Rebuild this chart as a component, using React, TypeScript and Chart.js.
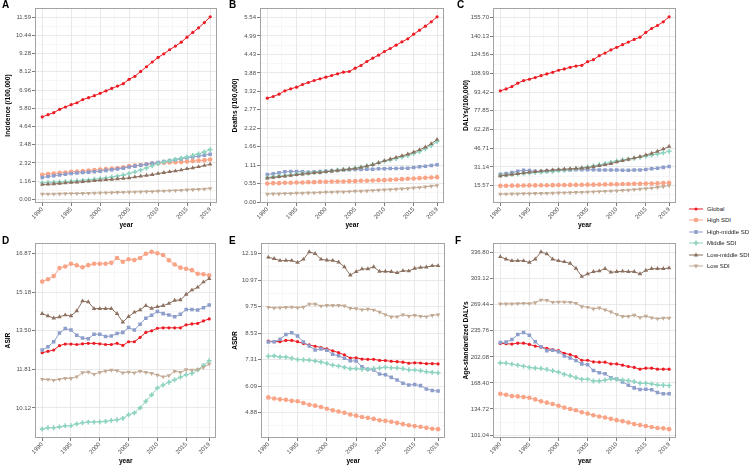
import React, { useEffect, useRef } from 'react';
import { Chart, registerables } from 'chart.js';
Chart.register(...registerables);

const years = [1990,1991,1992,1993,1994,1995,1996,1997,1998,1999,2000,2001,2002,2003,2004,2005,2006,2007,2008,2009,2010,2011,2012,2013,2014,2015,2016,2017,2018,2019];
const xMajorTicks = [1990, 1995, 2000, 2005, 2010, 2015, 2019];
const xMinorTicks = [1992.5, 1997.5, 2002.5, 2007.5, 2012.5, 2017];

const seriesNames = ['Global', 'High SDI', 'High-middle SDI', 'Middle SDI', 'Low-middle SDI', 'Low SDI'];
const seriesColors = ['#EC1C24', '#F9A487', '#8E9ECB', '#8DD3C0', '#8C7160', '#C2AA94'];

// A: Incidence
const incGlobal = [5.25,5.39,5.52,5.73,5.88,6.03,6.15,6.35,6.47,6.60,6.75,6.90,7.06,7.21,7.36,7.64,7.83,8.14,8.44,8.74,9.03,9.26,9.52,9.75,10.00,10.32,10.62,10.91,11.25,11.61];
const incHigh = [1.57,1.61,1.65,1.69,1.72,1.76,1.78,1.81,1.84,1.87,1.90,1.93,1.96,2.00,2.04,2.12,2.15,2.19,2.24,2.28,2.31,2.33,2.35,2.37,2.39,2.41,2.44,2.47,2.50,2.54];
const incHighMid = [1.40,1.46,1.51,1.56,1.61,1.65,1.68,1.71,1.74,1.77,1.80,1.85,1.89,1.94,1.99,2.07,2.12,2.18,2.24,2.30,2.35,2.41,2.46,2.52,2.58,2.65,2.70,2.76,2.82,2.88];
const incMid = [1.06,1.08,1.10,1.12,1.14,1.16,1.19,1.22,1.25,1.29,1.33,1.38,1.43,1.49,1.55,1.65,1.75,1.87,2.00,2.14,2.28,2.38,2.47,2.55,2.63,2.71,2.80,2.90,3.02,3.17];
const incLowMid = [0.95,0.97,0.99,1.02,1.05,1.08,1.10,1.13,1.16,1.19,1.23,1.25,1.28,1.31,1.34,1.37,1.43,1.48,1.53,1.58,1.65,1.71,1.76,1.81,1.87,1.95,2.01,2.08,2.16,2.24];
const incLow = [0.34,0.35,0.35,0.36,0.37,0.38,0.38,0.39,0.40,0.41,0.42,0.43,0.44,0.45,0.46,0.47,0.48,0.49,0.50,0.51,0.53,0.54,0.56,0.57,0.59,0.61,0.63,0.65,0.67,0.70];
const incTicks = ['0.00','1.16','2.32','3.48','4.64','5.80','6.96','8.12','9.28','10.44','11.59'];

// B: Deaths
const dthGlobal = [3.12,3.17,3.24,3.34,3.40,3.45,3.53,3.59,3.65,3.70,3.75,3.80,3.85,3.90,3.92,4.02,4.10,4.22,4.32,4.41,4.52,4.61,4.71,4.81,4.90,5.04,5.16,5.28,5.41,5.56];
const dthHigh = [0.56,0.57,0.57,0.58,0.58,0.59,0.59,0.60,0.60,0.61,0.61,0.62,0.62,0.62,0.63,0.63,0.64,0.64,0.65,0.66,0.66,0.67,0.68,0.69,0.70,0.71,0.72,0.73,0.74,0.75];
const dthHighMid = [0.83,0.85,0.88,0.91,0.92,0.92,0.91,0.90,0.91,0.92,0.93,0.94,0.95,0.96,0.97,0.98,0.98,0.99,0.99,1.00,1.00,1.01,1.01,1.02,1.02,1.04,1.06,1.08,1.10,1.12];
const dthMid = [0.74,0.76,0.78,0.80,0.82,0.84,0.86,0.87,0.89,0.90,0.92,0.94,0.96,0.98,1.00,1.02,1.05,1.09,1.13,1.18,1.23,1.27,1.31,1.35,1.40,1.46,1.52,1.60,1.70,1.82];
const dthLowMid = [0.72,0.74,0.76,0.78,0.80,0.82,0.84,0.86,0.88,0.89,0.91,0.93,0.95,0.97,0.99,1.01,1.04,1.08,1.12,1.18,1.24,1.29,1.34,1.39,1.44,1.50,1.57,1.65,1.75,1.88];
const dthLow = [0.24,0.25,0.25,0.26,0.26,0.27,0.27,0.28,0.28,0.29,0.30,0.30,0.31,0.31,0.32,0.33,0.33,0.34,0.35,0.36,0.37,0.38,0.39,0.40,0.41,0.43,0.44,0.46,0.48,0.50];
const dthTicks = ['0.00','0.55','1.11','1.66','2.22','2.77','3.32','3.88','4.43','4.99','5.54'];

// C: DALYs
const dalGlobal = [94.5,96.1,98.1,100.9,103.1,104.2,105.6,107.2,108.6,110.0,111.7,112.8,114.1,115.2,115.8,118.8,120.5,123.8,126.0,128.6,130.8,133.0,135.2,137.4,139.3,143.2,146.5,149.0,152.1,156.2];
const dalHigh = [15.3,15.4,15.5,15.5,15.6,15.7,15.7,15.8,15.8,15.9,16.0,16.0,16.1,16.1,16.2,16.3,16.3,16.4,16.5,16.6,16.7,16.8,16.9,17.0,17.1,17.2,17.3,17.4,17.6,17.8];
const dalHighMid = [25.0,25.5,26.4,27.5,28.3,28.0,27.4,27.2,27.6,28.0,28.3,28.5,28.6,28.7,28.7,28.8,28.7,28.6,28.5,28.5,28.5,28.4,28.3,28.5,28.6,29.0,29.5,30.0,30.7,31.4];
const dalMid = [23.9,24.3,24.8,25.3,25.7,26.1,26.5,26.8,27.1,27.5,28.0,28.5,29.0,29.6,30.2,31.1,32.0,32.9,33.8,34.9,36.1,36.9,37.6,38.3,39.1,40.0,40.9,41.9,42.9,44.1];
const dalLowMid = [23.6,24.2,24.8,25.4,26.0,26.6,27.1,27.7,28.1,28.5,28.9,29.2,29.5,29.8,30.1,30.5,31.3,32.1,32.9,33.8,35.2,36.3,37.4,38.5,39.6,41.0,42.4,44.0,46.0,48.2];
const dalLow = [8.4,8.5,8.6,8.7,8.8,8.9,9.0,9.1,9.2,9.3,9.5,9.6,9.7,9.9,10.0,10.2,10.4,10.6,10.8,11.0,11.2,11.5,11.8,12.2,12.6,13.0,13.5,14.0,14.7,15.6];
const dalTicks = ['15.57','31.14','46.71','62.28','77.85','93.42','108.99','124.56','140.13','155.70'];

// D: ASIR
const asirGlobal = [12.53,12.59,12.65,12.84,12.91,12.91,12.89,12.92,12.94,12.94,12.92,12.89,12.89,12.94,12.85,13.01,13.01,13.20,13.42,13.49,13.60,13.62,13.62,13.62,13.62,13.75,13.79,13.81,13.92,14.01];
const asirHigh = [15.64,15.74,15.88,16.23,16.30,16.42,16.35,16.27,16.36,16.42,16.42,16.42,16.46,16.67,16.51,16.62,16.58,16.67,16.86,16.94,16.88,16.80,16.57,16.39,16.25,16.20,16.14,15.98,15.96,15.91];
const asirHighMid = [12.65,12.79,13.01,13.39,13.59,13.52,13.29,13.17,13.14,13.34,13.34,13.24,13.26,13.37,13.42,13.63,13.52,13.78,14.04,14.17,14.33,14.24,14.18,14.10,14.21,14.42,14.42,14.40,14.50,14.62];
const asirMid = [9.19,9.25,9.25,9.29,9.34,9.34,9.42,9.47,9.50,9.50,9.51,9.53,9.57,9.60,9.66,9.82,9.90,10.12,10.41,10.69,10.99,11.12,11.24,11.35,11.46,11.57,11.63,11.78,11.98,12.18];
const asirLowMid = [14.24,14.14,14.04,14.10,14.18,14.14,14.36,14.79,14.75,14.46,14.46,14.46,14.46,14.24,13.87,14.11,14.30,14.40,14.59,14.47,14.54,14.59,14.68,14.82,14.84,15.08,15.27,15.39,15.62,15.77];
const asirLow = [11.37,11.36,11.33,11.37,11.41,11.41,11.48,11.66,11.69,11.59,11.67,11.73,11.77,11.75,11.65,11.69,11.65,11.72,11.67,11.63,11.55,11.48,11.53,11.72,11.67,11.79,11.77,11.80,11.89,12.04];
const asirTicks = ['10.12','11.81','13.50','15.18','16.87'];

// E: ASDR
const asdrGlobal = [8.17,8.14,8.14,8.20,8.20,8.14,8.06,7.99,7.93,7.87,7.81,7.72,7.64,7.53,7.39,7.40,7.34,7.33,7.33,7.28,7.27,7.24,7.22,7.20,7.15,7.17,7.16,7.13,7.13,7.12];
const asdrHigh = [5.58,5.53,5.49,5.47,5.42,5.40,5.32,5.24,5.20,5.14,5.06,4.99,4.93,4.87,4.79,4.74,4.68,4.64,4.59,4.53,4.50,4.46,4.41,4.35,4.30,4.26,4.23,4.18,4.14,4.12];
const asdrHighMid = [8.13,8.14,8.25,8.47,8.55,8.40,8.13,7.94,7.76,7.81,7.75,7.56,7.49,7.38,7.26,7.25,6.99,6.87,6.84,6.65,6.62,6.50,6.38,6.23,6.15,6.17,6.12,5.97,5.90,5.87];
const asdrMid = [7.47,7.49,7.44,7.43,7.38,7.32,7.31,7.29,7.26,7.20,7.14,7.06,7.02,6.96,6.90,6.90,6.87,6.87,6.91,6.93,6.96,6.94,6.93,6.90,6.85,6.84,6.81,6.76,6.73,6.71];
const asdrLowMid = [12.02,11.96,11.87,11.87,11.87,11.78,11.93,12.27,12.19,11.93,11.89,11.87,11.80,11.58,11.20,11.36,11.48,11.49,11.58,11.37,11.37,11.36,11.31,11.40,11.39,11.51,11.55,11.57,11.63,11.63];
const asdrLow = [9.72,9.69,9.70,9.72,9.73,9.70,9.73,9.87,9.87,9.78,9.81,9.81,9.81,9.79,9.67,9.66,9.61,9.64,9.60,9.50,9.38,9.28,9.29,9.38,9.32,9.35,9.31,9.29,9.35,9.38];
const asdrTicks = ['4.88','6.09','7.31','8.53','9.75','10.97','12.19'];

// F: Age-standardized DALYs
const asdGlobal = [219.4,219.0,218.6,219.8,219.8,218.1,216.0,214.7,213.0,211.3,210.1,206.7,205.0,202.4,197.7,197.7,195.6,195.2,195.2,193.0,193.0,191.3,189.6,188.4,186.2,187.5,187.5,186.2,186.2,186.2];
const asdHigh = [154.3,153.1,151.4,151.0,150.1,149.2,147.1,144.6,142.9,141.2,139.0,136.5,134.8,133.1,130.5,128.8,126.7,125.0,123.7,122.0,120.3,119.0,117.3,115.2,113.9,112.7,111.4,110.1,109.7,108.7];
const asdHighMid = [220.7,221.1,224.5,230.9,233.5,230.0,221.5,215.2,210.1,210.5,208.8,203.3,200.7,197.3,193.0,191.8,184.5,181.6,180.3,175.2,173.5,169.7,165.4,162.0,159.9,160.3,159.5,156.0,154.3,154.3];
const asdMid = [194.3,193.9,192.6,191.3,190.0,188.4,187.5,187.1,185.8,184.1,182.4,179.4,177.7,175.2,173.1,173.1,170.9,170.9,172.2,173.5,173.1,172.2,171.4,170.1,168.0,168.0,167.1,165.8,165.4,165.0];
const asdLowMid = [331.3,328.3,326.2,326.2,326.2,324.0,328.3,337.7,335.1,328.3,326.2,324.9,322.8,316.4,305.8,309.2,312.1,313.0,316.0,311.3,312.1,312.6,312.1,312.1,309.2,313.8,316.0,316.0,316.0,316.8];
const asdLow = [270.5,270.5,270.5,270.9,271.3,270.9,272.2,275.6,275.1,272.6,273.0,273.0,272.6,271.3,267.0,266.2,264.1,265.3,262.8,260.2,256.8,254.3,254.3,256.0,253.0,254.7,252.6,251.3,252.2,252.2];
const asdTicks = ['101.04','134.72','168.40','202.08','235.76','269.44','303.12','336.80'];

const FONT = '"Liberation Sans", Arial, sans-serif';

type PanelDef = {
  letter: string;
  yTitle: string;
  yTicks: string[];
  series: number[][];
  left: number; top: number; width: number; height: number;
  yW: number; xH: number; padTop: number; padRight: number;
  titlePad: number; xTitlePad: number;
  letterX: number; letterY: number;
};

const panels: PanelDef[] = [
  { letter: 'A', yTitle: 'Incidence (/100,000)', yTicks: incTicks, series: [incGlobal, incHigh, incHighMid, incMid, incLowMid, incLow],
    left: 0, top: 0, width: 223, height: 229, yW: 35, xH: 26, padTop: 8, padRight: 2, titlePad: 4, xTitlePad: 0, letterX: 2, letterY: 0 },
  { letter: 'B', yTitle: 'Deaths (/100,000)', yTicks: dthTicks, series: [dthGlobal, dthHigh, dthHighMid, dthMid, dthLowMid, dthLow],
    left: 226, top: 0, width: 224, height: 229, yW: 34, xH: 26, padTop: 8, padRight: 2, titlePad: 5, xTitlePad: 0, letterX: 229, letterY: 0 },
  { letter: 'C', yTitle: 'DALYs(/100,000)', yTicks: dalTicks, series: [dalGlobal, dalHigh, dalHighMid, dalMid, dalLowMid, dalLow],
    left: 457, top: 0, width: 225, height: 229, yW: 36, xH: 26, padTop: 8, padRight: 2, titlePad: 5, xTitlePad: 0, letterX: 457, letterY: 0 },
  { letter: 'D', yTitle: 'ASIR', yTicks: asirTicks, series: [asirGlobal, asirHigh, asirHighMid, asirMid, asirLowMid, asirLow],
    left: 0, top: 237, width: 222, height: 228, yW: 35, xH: 27, padTop: 6, padRight: 2, titlePad: 4, xTitlePad: 0, letterX: 2, letterY: 236 },
  { letter: 'E', yTitle: 'ASDR', yTicks: asdrTicks, series: [asdrGlobal, asdrHigh, asdrHighMid, asdrMid, asdrLowMid, asdrLow],
    left: 226, top: 237, width: 225, height: 228, yW: 35, xH: 27, padTop: 6, padRight: 2, titlePad: 5, xTitlePad: 0, letterX: 229, letterY: 236 },
  { letter: 'F', yTitle: 'Age-standardized DALYs', yTicks: asdTicks, series: [asdGlobal, asdHigh, asdHighMid, asdMid, asdLowMid, asdLow],
    left: 457, top: 237, width: 225, height: 228, yW: 36, xH: 27, padTop: 6, padRight: 2, titlePad: 5, xTitlePad: 0, letterX: 455, letterY: 236 },
];

const pointStyles: any[] = ['circle', 'circle', 'rect', 'cross', 'triangle', 'triangle'];
const pointRadii = [1.6, 2.3, 2.5, 2.4, 2.6, 2.6];
const pointRotations = [0, 0, 0, 0, 0, 180];

const borderPlugin = {
  id: 'panelBorder',
  afterDraw(chart: any) {
    const { ctx, chartArea: a } = chart;
    ctx.save();
    ctx.strokeStyle = '#A3A3A3';
    ctx.lineWidth = 1;
    ctx.strokeRect(Math.round(a.left) + 0.5, Math.round(a.top) + 0.5, Math.round(a.right - a.left) - 1, Math.round(a.bottom - a.top) - 1);
    ctx.restore();
  },
};

function Panel({ p }: { p: PanelDef }) {
  const ref = useRef<HTMLCanvasElement>(null);
  useEffect(() => {
    if (!ref.current) return;
    const all = p.series.flat();
    const dmin = Math.min(...all), dmax = Math.max(...all);
    const span = dmax - dmin;
    const yMin = dmin - span * 0.05, yMax = dmax + span * 0.05;
    const majors = p.yTicks.map((t) => parseFloat(t));
    const step = majors[1] - majors[0];
    const yVals: number[] = [];
    const yMajorSet = new Map<number, string>();
    majors.forEach((v, i) => yMajorSet.set(v, p.yTicks[i]));
    const cand: number[] = [majors[0] - step / 2, ...majors.flatMap((v) => [v, v + step / 2])];
    cand.forEach((v) => { if (v >= yMin && v <= yMax) yVals.push(v); });
    const xVals = [...xMajorTicks, ...xMinorTicks].sort((a, b) => a - b);
    const isXMajor = (v: number) => xMajorTicks.includes(v);
    const isYMajor = (v: number) => yMajorSet.has(v);

    const datasets = p.series.map((s, i) => ({
      label: seriesNames[i],
      data: s.map((v, j) => ({ x: years[j], y: v })),
      borderColor: seriesColors[i],
      backgroundColor: seriesColors[i],
      borderWidth: 1,
      pointStyle: pointStyles[i],
      pointRadius: pointRadii[i],
      pointRotation: pointRotations[i],
      pointBorderWidth: i === 3 ? 1.6 : 0,
      pointBorderColor: seriesColors[i],
      pointBackgroundColor: seriesColors[i],
      order: 6 - i,
      tension: 0,
    }));

    const chart = new Chart(ref.current, {
      type: 'line',
      data: { datasets },
      plugins: [borderPlugin],
      options: {
        animation: false,
        responsive: false,
        maintainAspectRatio: false,
        layout: { padding: { top: p.padTop, right: p.padRight, left: 0, bottom: 0 } },
        plugins: { legend: { display: false }, tooltip: { enabled: false } },
        scales: {
          x: {
            type: 'linear',
            min: 1988.75,
            max: 2020.25,
            afterFit: (s: any) => { s.height = p.xH; },
            afterBuildTicks: (s: any) => { s.ticks = xVals.map((v) => ({ value: v })); },
            ticks: {
              autoSkip: false,
              maxRotation: 45,
              minRotation: 45,
              padding: 0,
              color: '#4D4D4D',
              font: { family: FONT, size: 6 },
              callback: (v: any) => (isXMajor(v) ? String(v) : ''),
            },
            grid: {
              color: (c: any) => (c.tick && isXMajor(c.tick.value) ? '#E6E6E6' : '#F2F2F2'),
              lineWidth: (c: any) => (c.tick && isXMajor(c.tick.value) ? 0.9 : 0.6),
              tickColor: (c: any) => (c.tick && isXMajor(c.tick.value) ? '#444444' : 'rgba(0,0,0,0)'),
              tickLength: 3,
              tickWidth: 0.7,
            },
            border: { display: false },
            title: { display: true, text: 'year', color: '#000', font: { family: FONT, size: 6.6, weight: 'bold' }, padding: { top: 0, bottom: p.xTitlePad } },
          },
          y: {
            type: 'linear',
            min: yMin,
            max: yMax,
            afterFit: (s: any) => { s.width = p.yW; },
            afterBuildTicks: (s: any) => { s.ticks = yVals.map((v) => ({ value: v })); },
            ticks: {
              autoSkip: false,
              padding: 1,
              color: '#4D4D4D',
              font: { family: FONT, size: 6 },
              callback: (v: any) => (isYMajor(v) ? yMajorSet.get(v) : ''),
            },
            grid: {
              color: (c: any) => (c.tick && isYMajor(c.tick.value) ? '#E6E6E6' : '#F2F2F2'),
              lineWidth: (c: any) => (c.tick && isYMajor(c.tick.value) ? 0.9 : 0.6),
              tickColor: (c: any) => (c.tick && isYMajor(c.tick.value) ? '#444444' : 'rgba(0,0,0,0)'),
              tickLength: 3,
              tickWidth: 0.7,
            },
            border: { display: false },
            title: { display: true, text: p.yTitle, color: '#000', font: { family: FONT, size: 6.6, weight: 'bold' }, padding: { top: p.titlePad, bottom: 0 } },
          },
        },
      } as any,
    });
    return () => chart.destroy();
  }, [p]);
  return (
    <canvas
      ref={ref}
      width={p.width}
      height={p.height}
      style={{ position: 'absolute', left: p.left, top: p.top, width: p.width, height: p.height }}
    />
  );
}

function LegendKey({ i }: { i: number }) {
  const c = seriesColors[i];
  const cx = 7, cy = 4;
  let marker: React.ReactNode = null;
  if (pointStyles[i] === 'circle') marker = <circle cx={cx} cy={cy} r={pointRadii[i]} fill={c} />;
  else if (pointStyles[i] === 'rect') marker = <rect x={cx - 1.8} y={cy - 1.8} width={3.6} height={3.6} fill={c} />;
  else if (pointStyles[i] === 'cross') marker = <path d={`M${cx - 2.4} ${cy} H${cx + 2.4} M${cx} ${cy - 2.4} V${cy + 2.4}`} stroke={c} strokeWidth={1.6} />;
  else if (pointRotations[i] === 180) marker = <path d={`M${cx - 2.4} ${cy - 1.6} H${cx + 2.4} L${cx} ${cy + 2.4} Z`} fill={c} />;
  else marker = <path d={`M${cx - 2.4} ${cy + 1.6} H${cx + 2.4} L${cx} ${cy - 2.4} Z`} fill={c} />;
  return (
    <svg width={14} height={8} style={{ display: 'block' }}>
      <line x1={0} y1={cy} x2={14} y2={cy} stroke={c} strokeWidth={1} />
      {marker}
    </svg>
  );
}

export default function App() {
  return (
    <div style={{ position: 'absolute', left: 0, top: 0, width: 749, height: 465, background: '#fff', overflow: 'hidden', fontFamily: FONT }}>
      {panels.map((p) => (
        <Panel key={p.letter} p={p} />
      ))}
      {panels.map((p) => (
        <div key={'l' + p.letter} style={{ position: 'absolute', left: p.letterX, top: p.letterY, fontSize: 10, fontWeight: 'bold', lineHeight: '10px', color: '#000' }}>
          {p.letter}
        </div>
      ))}
      <div style={{ position: 'absolute', left: 689, top: 203 }}>
        {seriesNames.map((n, i) => (
          <div key={n} style={{ display: 'flex', alignItems: 'center', height: 11.5 }}>
            <LegendKey i={i} />
            <span style={{ fontSize: 6, color: '#222', marginLeft: 4, whiteSpace: 'nowrap', lineHeight: '8px' }}>{n}</span>
          </div>
        ))}
      </div>
    </div>
  );
}
